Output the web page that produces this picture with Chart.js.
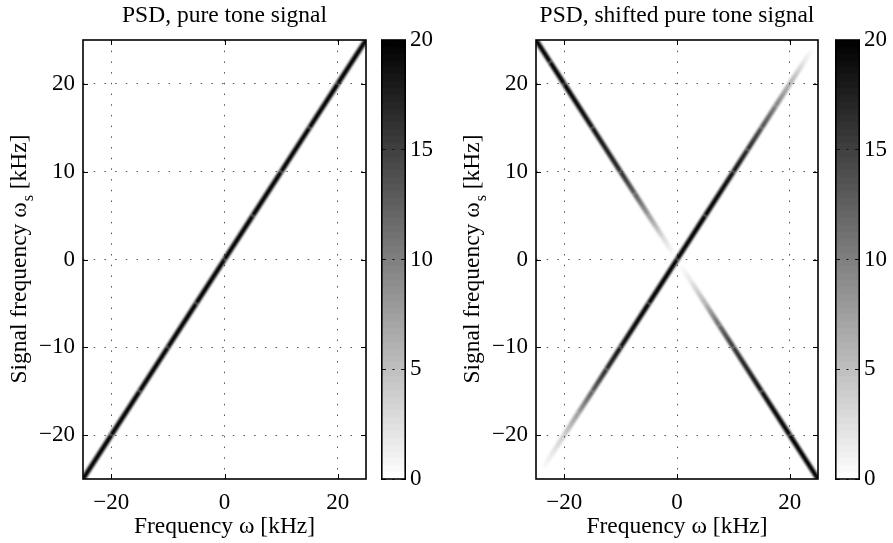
<!DOCTYPE html>
<html>
<head>
<meta charset="utf-8">
<script src="https://cdn.jsdelivr.net/npm/chart.js@4.4.1/dist/chart.umd.min.js"></script>
<style>
  body { margin: 0; background: #fff; }
  #wrap { position: relative; width: 893px; height: 543px; }
  canvas { position: absolute; top: 0; }
</style>
</head>
<body>
<div id="wrap">
  <canvas id="psdLeft" width="380" height="543" style="left:0;width:380px;height:543px"></canvas>
  <canvas id="cbLeft" width="62" height="543" style="left:381px;width:62px;height:543px"></canvas>
  <canvas id="psdRight" width="380" height="543" style="left:453px;width:380px;height:543px"></canvas>
  <canvas id="cbRight" width="58" height="543" style="left:835px;width:58px;height:543px"></canvas>
</div>
<script>
// axis ticks
const xTicks = [-20, 0, 20];
const yTicks = [-20, -10, 0, 10, 20];
const cbTicks = [0, 5, 10, 15, 20];

// titles
const leftTitle = "PSD, pure tone signal";
const rightTitle = "PSD, shifted pure tone signal";
const xTitle = "Frequency ω [kHz]";
const yTitleParts = ["Signal frequency ω", "s", " [kHz]"];

// left panel: ridge along ω = ωs
const leftSignal = [-25, -20, -15, -10, -5, 0, 5, 10, 15, 20, 25];
const leftPsd = [20, 20, 20, 20, 20, 20, 20, 20, 20, 20, 20];

// right panel: ridge along ω = ωs
const risingSignal = [-24, -22.5, -20, -17.5, -15, -12.5, -10, -5, 0, 5, 10, 12.5, 15, 17.5, 20, 22.5, 24];
const risingPsd = [0, 1.5, 4, 8, 13, 17, 19, 20, 20, 20, 19, 17, 14, 10, 6, 2, 0];

// right panel: ridge along ω = -ωs
const fallingSignal = [25, 22.5, 20, 15, 10, 7.5, 5, 2.5, 0.5, -0.5, -2.5, -5, -7.5, -10, -15, -20, -25];
const fallingPsd = [20, 20, 20, 19, 17, 13, 8, 3, 0, 0, 2, 6, 12, 16, 19, 20, 20];

const serif = '"Liberation Serif", "Times New Roman", serif';
Chart.defaults.font.family = serif;
Chart.defaults.font.size = 23;
Chart.defaults.color = "#000";

function psdColor(v) {
  const a = Math.max(0, Math.min(1, v / 20));
  return "rgba(0,0,0," + a.toFixed(3) + ")";
}

function ridgeColor(psd) {
  return (ctx) => {
    const g = ctx.chart.ctx.createLinearGradient(ctx.p0.x, ctx.p0.y, ctx.p1.x, ctx.p1.y);
    g.addColorStop(0, psdColor(psd[ctx.p0DataIndex]));
    g.addColorStop(1, psdColor(psd[ctx.p1DataIndex]));
    return g;
  };
}

function ridge(points, psd) {
  return {
    data: points,
    borderColor: "#000",
    borderWidth: 4.8,
    borderCapStyle: "butt",
    pointRadius: 0,
    tension: 0,
    clip: 0,
    segment: { borderColor: ridgeColor(psd) }
  };
}

const softEdge = {
  id: "softEdge",
  beforeDatasetsDraw(chart) {
    chart.ctx.save();
    chart.ctx.filter = "blur(0.9px)";
  },
  afterDatasetsDraw(chart) {
    chart.ctx.restore();
  }
};

function decor(title) {
  return {
    id: "decor",
    afterDraw(chart) {
      const { ctx, chartArea: a, scales: { x, y } } = chart;
      ctx.save();
      ctx.strokeStyle = "#000";
      ctx.lineWidth = 1;
      ctx.beginPath();
      xTicks.forEach((v) => {
        const px = Math.round(x.getPixelForValue(v)) + 0.5;
        ctx.moveTo(px, a.bottom); ctx.lineTo(px, a.bottom - 5);
        ctx.moveTo(px, a.top); ctx.lineTo(px, a.top + 5);
      });
      yTicks.forEach((v) => {
        const py = Math.round(y.getPixelForValue(v)) + 0.5;
        ctx.moveTo(a.left, py); ctx.lineTo(a.left + 5, py);
        ctx.moveTo(a.right, py); ctx.lineTo(a.right - 5, py);
      });
      ctx.stroke();
      ctx.lineWidth = 1.6;
      ctx.strokeRect(a.left, a.top, a.right - a.left, a.bottom - a.top);

      ctx.fillStyle = "#000";
      ctx.font = "23.5px " + serif;
      ctx.textAlign = "center";
      ctx.textBaseline = "middle";
      const cx = (a.left + a.right) / 2;
      ctx.fillText(title, cx, 16);
      ctx.fillText(xTitle, cx, 527);

      // y title with subscript
      ctx.translate(a.left - 57, (a.top + a.bottom) / 2);
      ctx.rotate(-Math.PI / 2);
      ctx.textAlign = "left";
      ctx.textBaseline = "alphabetic";
      const big = "23.5px " + serif, small = "16px " + serif;
      ctx.font = big;
      const w1 = ctx.measureText(yTitleParts[0]).width;
      const w3 = ctx.measureText(yTitleParts[2]).width;
      ctx.font = small;
      const w2 = ctx.measureText(yTitleParts[1]).width;
      let x0 = -(w1 + w2 + w3) / 2;
      ctx.font = big;
      ctx.fillText(yTitleParts[0], x0, 0);
      ctx.font = small;
      ctx.fillText(yTitleParts[1], x0 + w1 + 1, 7);
      ctx.font = big;
      ctx.fillText(yTitleParts[2], x0 + w1 + w2 + 1, 0);
      ctx.restore();
    }
  };
}

const cbBox = {
  id: "cbBox",
  afterDraw(chart) {
    const { ctx, chartArea: a } = chart;
    ctx.save();
    ctx.strokeStyle = "#000";
    ctx.lineWidth = 1.6;
    ctx.strokeRect(a.left + 0.8, a.top, a.right - a.left - 1.6, a.bottom - a.top);
    ctx.restore();
  }
};

function fixedTicks(list) {
  return (scale) => { scale.ticks = list.map((v) => ({ value: v })); };
}

function minusLabel(v) {
  return v < 0 ? "\u2212" + Math.abs(v) : String(v);
}

function psdChart(id, datasets, title, rightPad) {
  return new Chart(document.getElementById(id), {
    type: "line",
    data: { datasets },
    options: {
      responsive: false,
      animation: false,
      layout: { padding: { top: 40, right: rightPad, bottom: 0, left: 0 } },
      plugins: { legend: { display: false }, tooltip: { enabled: false } },
      scales: {
        x: {
          type: "linear",
          min: -25, max: 25,
          afterBuildTicks: fixedTicks(xTicks),
          afterFit: (s) => { s.height = 64; },
          ticks: { padding: 10, callback: minusLabel, maxRotation: 0 },
          grid: { color: "#555", lineWidth: 1, drawTicks: false },
          border: { display: false, dash: [1.5, 9.2] }
        },
        y: {
          type: "linear",
          min: -25, max: 25,
          afterBuildTicks: fixedTicks(yTicks),
          afterFit: (s) => { s.width = 83; },
          ticks: { padding: 8, callback: minusLabel },
          grid: { color: "#555", lineWidth: 1, drawTicks: false },
          border: { display: false, dash: [1.5, 9.2] }
        }
      }
    },
    plugins: [softEdge, decor(title)]
  });
}

function colorbarFill(ctx) {
  const a = ctx.chart.chartArea;
  if (!a) return "#888";
  const g = ctx.chart.ctx.createLinearGradient(0, a.bottom, 0, a.top);
  const steps = 64;
  for (let i = 0; i < steps; i++) {
    const lv = Math.round(255 * (1 - (i + 0.5) / steps));
    const c = "rgb(" + lv + "," + lv + "," + lv + ")";
    g.addColorStop(i / steps, c);
    g.addColorStop((i + 1) / steps, c);
  }
  return g;
}

function colorbar(id, width) {
  return new Chart(document.getElementById(id), {
    type: "bar",
    data: {
      labels: ["PSD"],
      datasets: [{
        data: [[cbTicks[0], cbTicks[cbTicks.length - 1]]],
        backgroundColor: colorbarFill,
        borderWidth: 0,
        barPercentage: 1,
        categoryPercentage: 1
      }]
    },
    options: {
      responsive: false,
      animation: false,
      layout: { padding: { top: 40, right: 0, bottom: 64, left: 0 } },
      plugins: { legend: { display: false }, tooltip: { enabled: false } },
      scales: {
        x: { display: false },
        y: {
          position: "right",
          min: 0, max: 20,
          afterBuildTicks: fixedTicks(cbTicks),
          afterFit: (s) => { s.width = width - 25; },
          ticks: { padding: 4 },
          grid: { color: "#111", lineWidth: 1, drawTicks: false, z: 1 },
          border: { display: false, dash: [5, 6.5, 2, 6.5, 5] }
        }
      }
    },
    plugins: [cbBox]
  });
}

psdChart("psdLeft", [
  ridge(leftSignal.map((s) => ({ x: s, y: s })), leftPsd)
], leftTitle, 14);

psdChart("psdRight", [
  ridge(risingSignal.map((s) => ({ x: s, y: s })), risingPsd),
  ridge(fallingSignal.map((s) => ({ x: -s, y: s })), fallingPsd)
], rightTitle, 15);

colorbar("cbLeft", 62);
colorbar("cbRight", 58);
</script>
</body>
</html>
